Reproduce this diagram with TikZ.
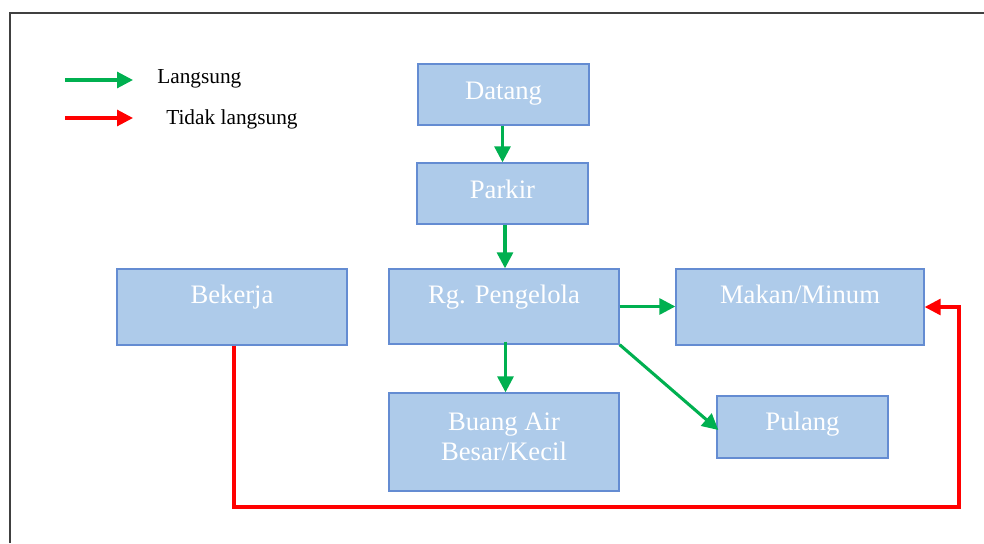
\documentclass[tikz,border=0pt]{standalone}
\usepackage{fontspec}
\setmainfont{Liberation Serif}
\usetikzlibrary{arrows.meta,calc}
\definecolor{boxfill}{RGB}{174,203,234}
\definecolor{boxline}{RGB}{100,140,210}
\definecolor{agreen}{RGB}{0,176,80}
\definecolor{ared}{RGB}{255,0,0}
\definecolor{frame}{RGB}{64,64,64}
\newdimen\pxu
\pxu=0.75pt
\tikzset{
  box/.style={draw=boxline, fill=boxfill, line width=1pt, inner sep=0pt, rectangle},
  lbl/.style={text=white, inner sep=0pt, font=\fontsize{20}{22.5}\selectfont},
  legtext/.style={text=black, inner sep=0pt, font=\fontsize{16}{19}\selectfont},
  garrow/.style={draw=agreen, line width=2.3pt, -{Triangle[length=12pt,width=12pt]}},
  rarrow/.style={draw=ared, line width=2.3pt, line join=miter, -{Triangle[length=12pt,width=12pt]}},
}
\begin{document}
\begin{tikzpicture}[x=0.75pt,y=-0.75pt]
\useasboundingbox (0,0) rectangle (984,543);
% frame
\draw[frame, line width=1.5pt] (10,543) -- (10,13) -- (984,13);

% boxes
\node[box, minimum width=171\pxu, minimum height=61\pxu] (datang) at (503.5,94.5) {};
\node[box, minimum width=171\pxu, minimum height=61\pxu] (parkir) at (502.5,193.5) {};
\node[box, minimum width=230\pxu, minimum height=75\pxu] (rg) at (504,306.5) {};
\node[box, minimum width=248\pxu, minimum height=76\pxu] (makan) at (800,307) {};
\node[box, minimum width=171\pxu, minimum height=62\pxu] (pulang) at (802.5,427) {};
\node[box, minimum width=230\pxu, minimum height=76\pxu] (bekerja) at (232,307) {};
\node[box, minimum width=230\pxu, minimum height=98\pxu] (buang) at (504,442) {};

% texts
\node[lbl, anchor=base] (tdatang) at (503.5,99) {Datang};
\node[lbl, anchor=base] (tparkir) at (502.5,198) {Parkir};
\node[lbl, anchor=base] (trg) at (504,303) {Rg. Pengelola};
\node[lbl, anchor=base] (tmakan) at (800,303) {Makan/Minum};
\node[lbl, anchor=base] (tbekerja) at (232,303) {Bekerja};
\node[lbl, anchor=base] (tpulang) at (802.5,430) {Pulang};
\node[lbl, align=center] (tbuang) at (504,437) {Buang Air\\Besar/Kecil};

% green connectors
\draw[garrow] ($(datang.south)+(-1,0)$) -- ($(parkir.north)+(0,0)$);
\draw[garrow] ($(parkir.south)+(2.5,0)$) -- ($(rg.north)+(1,0)$);
\draw[garrow] ($(rg.south)+(1.5,-3)$) -- ($(buang.north)+(1.5,0)$);
\draw[garrow] (rg.east) -- (rg.east -| makan.west);
\draw[garrow] (rg.south east) -- ($(pulang.west)+(2,3)$);

% red connector
\coordinate (rb) at (959,507);
\draw[rarrow] ($(bekerja.south)+(2,0)$) |- (rb) |- (makan.east);

% legend
\coordinate (g1) at (65,80);
\coordinate (g2) at (133,80);
\coordinate (r1) at (65,118);
\coordinate (r2) at (133,118);
\draw[garrow] (g1) -- (g2);
\draw[rarrow] (r1) -- (r2);
\node[legtext, anchor=base west] (lang) at (157,83) {Langsung};
\node[legtext, anchor=base west] (tidak) at (166,124) {Tidak langsung};
\end{tikzpicture}
\end{document}
